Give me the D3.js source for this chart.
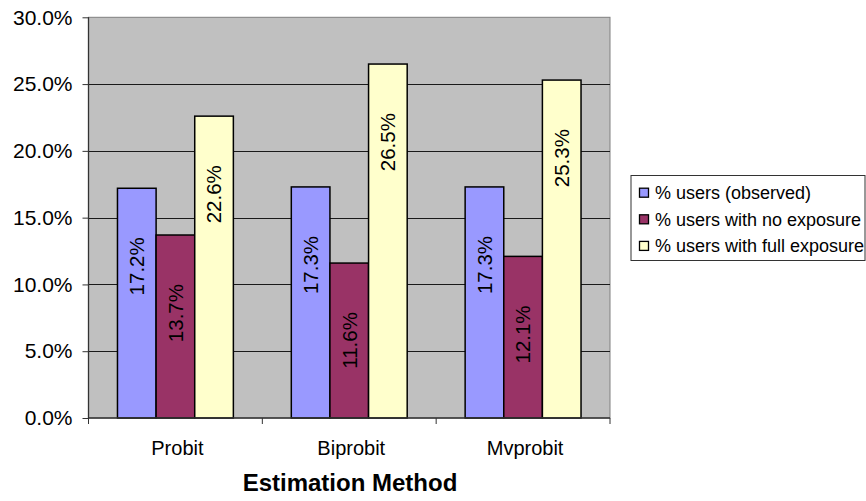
<!DOCTYPE html>
<html>
<head>
<meta charset="utf-8">
<script src="https://cdn.jsdelivr.net/npm/d3@7"></script>
<style>
  html, body { margin: 0; padding: 0; background: #ffffff; }
  svg { display: block; font-family: "Liberation Sans", Arial, sans-serif; }
</style>
</head>
<body>
<svg id="chart" width="866" height="501"></svg>
<script>
// Estimation methods on the category axis
const methods = ["Probit", "Biprobit", "Mvprobit"];

// Series names shown in the legend
const seriesNames = [
  "% users (observed)",
  "% users with no exposure",
  "% users with full exposure"
];

// Shares of users per method, one array per series (percent)
const observed     = [17.2, 17.3, 17.3];
const noExposure   = [13.7, 11.6, 12.1];
const fullExposure = [22.6, 26.5, 25.3];

// Value axis ticks (percent)
const yTicks = [0, 5, 10, 15, 20, 25, 30];

const seriesValues = [observed, noExposure, fullExposure];
const seriesColors = ["#9999FF", "#993366", "#FFFFCC"];

const svg = d3.select("#chart");

const plot = { left: 88.5, right: 610, top: 17.3, bottom: 418 };

const x = d3.scaleBand()
  .domain(methods)
  .range([plot.left, plot.right])
  .paddingInner(0)
  .paddingOuter(0);

const xInner = d3.scaleBand()
  .domain(d3.range(seriesNames.length))
  .range([0, x.bandwidth()])
  .paddingInner(0)
  .paddingOuter(0.75);

const y = d3.scaleLinear()
  .domain([0, 30])
  .range([plot.bottom, plot.top]);

// Plot area background
svg.append("rect")
  .attr("x", plot.left)
  .attr("y", plot.top)
  .attr("width", plot.right - plot.left)
  .attr("height", plot.bottom - plot.top)
  .attr("fill", "#C0C0C0")
  .attr("stroke", "#808080")
  .attr("stroke-width", 1);

// Horizontal gridlines
svg.append("g")
  .selectAll("line")
  .data(yTicks.filter(t => t > 0 && t < 30))
  .join("line")
  .attr("x1", plot.left)
  .attr("x2", plot.right)
  .attr("y1", d => Math.round(y(d)) + 0.5)
  .attr("y2", d => Math.round(y(d)) + 0.5)
  .attr("stroke", "#1a1a1a")
  .attr("stroke-width", 1);

// Bars
const rows = methods.map((m, i) => ({
  method: m,
  values: seriesValues.map((vals, s) => ({ s, v: vals[i] }))
}));

const groups = svg.append("g")
  .selectAll("g")
  .data(rows)
  .join("g")
  .attr("transform", d => `translate(${x(d.method)},0)`);

groups.selectAll("rect")
  .data(d => d.values)
  .join("rect")
  .attr("x", d => xInner(d.s))
  .attr("y", d => y(d.v))
  .attr("width", xInner.bandwidth())
  .attr("height", d => y(0) - y(d.v))
  .attr("fill", d => seriesColors[d.s])
  .attr("stroke", "#000")
  .attr("stroke-width", 1.5);

// Value labels, rotated inside each bar
groups.selectAll("text")
  .data(d => d.values)
  .join("text")
  .attr("transform", d => `translate(${xInner(d.s) + xInner.bandwidth() / 2},${y(d.v) + 49}) rotate(-90)`)
  .attr("text-anchor", "end")
  .attr("dy", "0.36em")
  .attr("font-size", 20.5)
  .attr("fill", "#000")
  .text(d => d.v.toFixed(1) + "%");

// Value axis
const yAxis = d3.axisLeft(y)
  .tickValues(yTicks)
  .tickSize(6)
  .tickPadding(10)
  .tickFormat(d => d.toFixed(1) + "%");

const yG = svg.append("g")
  .attr("transform", `translate(${plot.left},0)`)
  .call(yAxis);
yG.select(".domain").attr("stroke", "#333").attr("stroke-width", 1.3).attr("d", `M0,${plot.top}V${plot.bottom}`);
yG.selectAll(".tick line").attr("stroke", "#333");
yG.selectAll(".tick text")
  .attr("font-size", 21)
  .attr("fill", "#000")
  .attr("font-family", "Liberation Sans, Arial, sans-serif");

// Category axis
const xG = svg.append("g")
  .attr("transform", `translate(0,${plot.bottom})`);
xG.append("line")
  .attr("x1", plot.left)
  .attr("x2", plot.right)
  .attr("y1", 0)
  .attr("y2", 0)
  .attr("stroke", "#333")
  .attr("stroke-width", 1.3);
const boundaries = methods.map(m => x(m)).concat([x(methods[methods.length - 1]) + x.bandwidth()]);
xG.selectAll("line.tick")
  .data(boundaries)
  .join("line")
  .attr("class", "tick")
  .attr("x1", d => d)
  .attr("x2", d => d)
  .attr("y1", 0)
  .attr("y2", 6)
  .attr("stroke", "#333");
xG.selectAll("text.cat")
  .data(methods)
  .join("text")
  .attr("class", "cat")
  .attr("x", d => x(d) + x.bandwidth() / 2 + 2)
  .attr("y", 37)
  .attr("text-anchor", "middle")
  .attr("font-size", 20)
  .attr("fill", "#000")
  .text(d => d);

// Axis title
svg.append("text")
  .attr("x", 350)
  .attr("y", 491)
  .attr("text-anchor", "middle")
  .attr("font-size", 24)
  .attr("font-weight", "bold")
  .attr("fill", "#000")
  .text("Estimation Method");

// Legend
const legend = svg.append("g");
legend.append("rect")
  .attr("x", 631)
  .attr("y", 175.5)
  .attr("width", 234)
  .attr("height", 85)
  .attr("fill", "#fff")
  .attr("stroke", "#333")
  .attr("stroke-width", 1);

const items = legend.selectAll("g")
  .data(seriesNames)
  .join("g")
  .attr("transform", (d, i) => `translate(639,${192.7 + i * 26.6})`);

items.append("rect")
  .attr("x", 0.5)
  .attr("y", -4.5)
  .attr("width", 9)
  .attr("height", 9)
  .attr("fill", (d, i) => seriesColors[i])
  .attr("stroke", "#000")
  .attr("stroke-width", 1.3);

items.append("text")
  .attr("x", 16)
  .attr("y", 0)
  .attr("dy", "0.36em")
  .attr("font-size", 18)
  .attr("fill", "#000")
  .text(d => d);
</script>
</body>
</html>
